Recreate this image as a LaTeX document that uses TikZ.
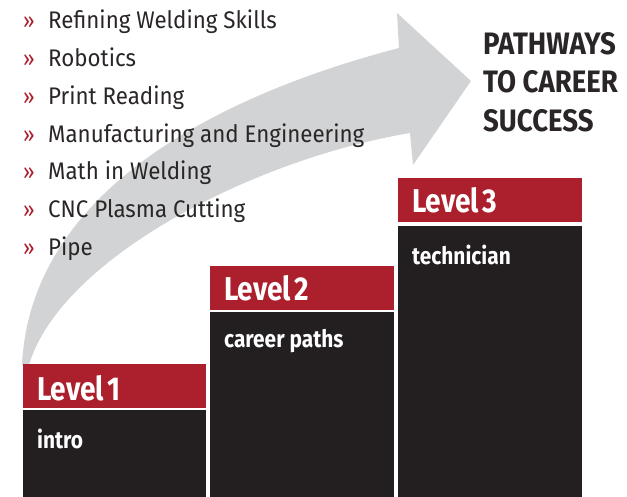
\documentclass[tikz,border=0pt]{standalone}
\usepackage{fontspec}
\setmainfont{Fira Sans}
\newfontfamily\bodyfont[FakeStretch=0.93]{Fira Sans}
\newfontfamily\lvlfont[FakeStretch=0.85]{Fira Sans}
\newfontfamily\subfont[FakeStretch=0.87]{Fira Sans}
\newfontfamily\ttlfont[FakeStretch=0.89]{Fira Sans}
\definecolor{lvred}{HTML}{AC1F2D}
\definecolor{lvblack}{HTML}{231F20}
\definecolor{arrowgray}{HTML}{D1D3D4}
\definecolor{txt}{HTML}{2A2627}
\begin{document}
\begin{tikzpicture}[x=1pt,y=-1pt,
  bul/.style={anchor=base west, text=lvred, font=\bodyfont\fontsize{22}{22}\selectfont, inner sep=0},
  item/.style={anchor=base west, text=txt, font=\bodyfont\fontsize{24}{24}\selectfont, inner sep=0},
  lvl/.style={anchor=base west, text=white, font=\lvlfont\bfseries\fontsize{33}{33}\selectfont, inner sep=0},
  sub/.style={anchor=base west, text=white, font=\subfont\bfseries\fontsize{24}{24}\selectfont, inner sep=0},
  ttl/.style={anchor=base west, text=txt, font=\ttlfont\bfseries\fontsize{31}{31}\selectfont, inner sep=0},
  redbox/.style={fill=lvred},
  blkbox/.style={fill=lvblack}
]
\useasboundingbox (0,0) rectangle (627,497);
% curved arrow
\fill[arrowgray] (22,365) .. controls (30,200) and (200,100) .. (399,48)
  -- (397,13) -- (471,81) -- (413,165) -- (410,133)
  .. controls (250,160) and (60,260) .. (29,365) -- cycle;
% list
\foreach \y/\t [count=\i] in {29/Refining Welding Skills,67/Robotics,105/Print Reading,143/Manufacturing and Engineering,180/Math in Welding,218/CNC Plasma Cutting,256/Pipe}{
  \node[bul] (b\i) at (23,\y) {»};
  \node[item] (it\i) at (48,\y) {\t};
}
% title
\node[ttl] (t1) at (483,55) {PATHWAYS};
\node[ttl] (t2) at (483,93) {TO CAREER};
\node[ttl] (t3) at (483,132) {SUCCESS};
% level boxes
\fill[redbox] (23,364) rectangle (206,408);
\fill[blkbox] (23,410) rectangle (206,497);
\fill[redbox] (210,266) rectangle (394,310);
\fill[blkbox] (210,312) rectangle (394,497);
\fill[redbox] (398,178) rectangle (582,222);
\fill[blkbox] (398,226) rectangle (582,497);
\node[lvl] (l1) at (37,400) {Level\hspace{0.1em}1};
\node[sub] (s1) at (37,448) {intro};
\node[lvl] (l2) at (224,301) {Level\hspace{0.1em}2};
\node[sub] (s2) at (224,347) {career paths};
\node[lvl] (l3) at (412,213) {Level\hspace{0.1em}3};
\node[sub] (s3) at (412,265) {technician};
\end{tikzpicture}
\end{document}
